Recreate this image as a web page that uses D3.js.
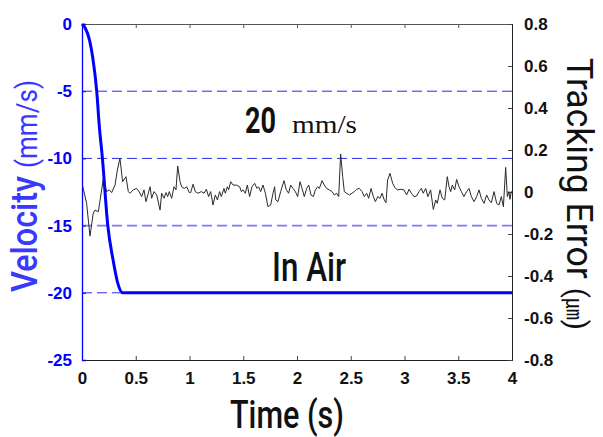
<!DOCTYPE html>
<html>
<head>
<meta charset="utf-8">
<script src="https://cdn.jsdelivr.net/npm/d3@7"></script>
<style>
body { margin: 0; background: #fff; }
.tick text { font-family: "Liberation Sans", Arial, sans-serif; font-weight: bold; font-size: 17px; }
.narrow { font-family: "Roboto", "Liberation Sans", sans-serif; }
</style>
</head>
<body>
<div id="plot"></div>
<script>
// velocity profile (s, mm/s)
const velTime = [0, 0.03, 0.07, 0.1, 0.137, 0.16, 0.19, 0.24, 0.29, 0.33, 0.38, 4];
const velValue = [0, -0.3, -1.2, -2.5, -5, -7.5, -10, -15, -17.6, -19.2, -20, -20];

// tracking error (s, um)
const errTime = [0.006, 0.043, 0.074, 0.105, 0.121, 0.152, 0.198, 0.229, 0.254, 0.276, 0.307, 0.329, 0.353, 0.378, 0.409, 0.431, 0.446, 0.477, 0.508, 0.533, 0.555, 0.577, 0.595, 0.617, 0.633, 0.648, 0.67, 0.695, 0.726, 0.741, 0.763, 0.781, 0.797, 0.812, 0.834, 0.856, 0.874, 0.89, 0.912, 0.927, 0.952, 0.974, 0.998,
  1.011, 1.033, 1.054, 1.079, 1.11, 1.135, 1.157, 1.178, 1.197, 1.219, 1.24, 1.26, 1.28, 1.296, 1.321, 1.333, 1.352, 1.364, 1.383, 1.405, 1.436, 1.467, 1.482, 1.498, 1.519, 1.538, 1.559, 1.581, 1.606, 1.628, 1.643, 1.662, 1.684, 1.706, 1.73, 1.755, 1.777, 1.792, 1.802, 1.823, 1.848, 1.879, 1.901, 1.922, 1.941, 1.963, 1.985,
  2.006, 2.028, 2.047, 2.068, 2.09, 2.109, 2.13, 2.152, 2.171, 2.192, 2.208, 2.233, 2.254, 2.276, 2.301, 2.326, 2.347, 2.369, 2.388, 2.406, 2.425, 2.44, 2.462, 2.487, 2.512, 2.533, 2.555, 2.58, 2.605, 2.626, 2.648, 2.667, 2.689, 2.71, 2.729, 2.751, 2.772, 2.791, 2.812, 2.828, 2.843, 2.865, 2.89, 2.915, 2.936, 2.967,
  2.995, 3.02, 3.042, 3.064, 3.088, 3.113, 3.135, 3.157, 3.174, 3.197, 3.218, 3.243, 3.268, 3.29, 3.305, 3.33, 3.352, 3.374, 3.398, 3.414, 3.43, 3.445, 3.467, 3.485, 3.507, 3.529, 3.553, 3.578, 3.6, 3.622, 3.647, 3.671, 3.693, 3.715, 3.74, 3.764, 3.786, 3.808, 3.833, 3.857, 3.879, 3.901, 3.92, 3.941, 3.957, 3.972, 3.981, 3.994, 4.0];
const errValue = [0.029, -0.054, -0.21, -0.10, -0.086, -0.094, 0.062, 0.002, 0.01, -0.003, 0.033, 0.105, 0.16, 0.049, 0.073, 0.002, -0.006, 0.01, 0.017, 0.0, -0.022, 0.01, -0.046, -0.006, 0.025, -0.03, 0.002, -0.014, -0.086, -0.006, -0.03, -0.003, -0.022, 0.002, -0.03, 0.025, 0.01, 0.124, 0.049, 0.025, 0.017, 0.025, -0.003,
  -0.003, 0.037, 0.002, -0.006, 0.002, -0.006, 0.013, -0.022, 0.002, -0.062, -0.014, -0.038, 0.002, -0.022, 0.017, -0.006, 0.025, 0.01, 0.049, 0.033, 0.033, 0.025, 0.002, 0.01, -0.006, 0.033, -0.022, 0.025, 0.041, 0.017, 0.025, 0.002, 0.033, -0.006, -0.07, -0.062, -0.006, 0.025, -0.038, -0.046, 0.002, 0.054, 0.01, -0.006, 0.033, 0.017, 0.002,
  -0.022, 0.049, 0.017, -0.022, 0.017, 0.033, -0.014, -0.022, 0.01, 0.025, 0.017, 0.054, 0.033, 0.017, 0.01, 0.002, -0.014, -0.006, -0.022, 0.181, 0.073, 0.002, -0.006, -0.014, -0.006, 0.002, 0.013, 0.017, 0.002, -0.022, -0.006, -0.03, 0.017, -0.022, -0.046, -0.022, -0.03, -0.006, -0.038, -0.051, 0.057, 0.089, 0.041, 0.017, 0.01, 0.013,
  0.01, -0.014, 0.013, -0.006, -0.022, -0.019, 0.002, 0.017, -0.006, 0.017, -0.022, 0.01, -0.083, -0.038, -0.054, 0.01, -0.03, -0.038, 0.073, 0.025, 0.002, 0.033, 0.01, 0.06, 0.025, 0.002, -0.022, 0.002, 0.017, -0.022, -0.046, -0.022, 0.01, -0.03, -0.054, -0.014, -0.038, -0.051, 0.002, -0.054, -0.062, -0.022, -0.07, 0.117, -0.022, 0.002, -0.035, 0.002, 0.0];

const timeTicks = [0, 0.5, 1, 1.5, 2, 2.5, 3, 3.5, 4];
const velTicks = [0, -5, -10, -15, -20, -25];
const errTicks = [0.8, 0.6, 0.4, 0.2, 0, -0.2, -0.4, -0.6, -0.8];
const gridLevels = [-5, -10, -15, -20];

const margin = {top: 24, right: 91, bottom: 77, left: 82},
width = 603 - margin.left - margin.right,
height = 437 - margin.top - margin.bottom;

const svgRoot = d3.select("#plot")
.append("svg")
.attr("width", 603)
.attr("height", 437);

const svg = svgRoot.append("g")
.attr("transform", `translate(${margin.left},${margin.top})`);

const x = d3.scaleLinear().domain([0, 4]).range([0, width]);
const yVel = d3.scaleLinear().domain([-25, 0]).range([height, 0]);
const yErr = d3.scaleLinear().domain([-0.8, 0.8]).range([height, 0]);

// dashed reference lines
svg.selectAll(".grid")
.data(gridLevels)
.join("line")
.attr("x1", 0)
.attr("x2", width)
.attr("y1", d => yVel(d))
.attr("y2", d => yVel(d))
.attr("stroke", d => d == -15 ? "#7a7aff" : "#2b2bee")
.attr("stroke-width", d => d == -15 ? 1.6 : 1)
.attr("stroke-dasharray", "10,5");

// axes
const fmt = d => d3.format("")(d).replace("−", "-");

svg.append("g")
.attr("transform", `translate(0, ${height})`)
.call(d3.axisBottom(x).tickValues(timeTicks).tickSize(-4).tickPadding(12).tickFormat(fmt))
.call(g => g.select(".domain").attr("stroke", "#222"))
.call(g => g.selectAll(".tick line").attr("stroke", "#444"))
.call(g => g.selectAll("text").attr("fill", "#111"));

svg.append("g")
.call(d3.axisTop(x).tickValues(timeTicks).tickSize(-4).tickFormat(""))
.call(g => g.select(".domain").attr("stroke", "#555"))
.call(g => g.selectAll(".tick line").attr("stroke", "#555"));

svg.append("g")
.attr("transform", `translate(${width}, 0)`)
.call(d3.axisRight(yErr).tickValues(errTicks).tickSize(-4).tickPadding(12).tickFormat(fmt))
.call(g => g.select(".domain").attr("stroke", "#222"))
.call(g => g.selectAll(".tick line").attr("stroke", "#444"))
.call(g => g.selectAll("text").attr("fill", "#111"));

svg.append("g")
.call(d3.axisLeft(yVel).tickValues(velTicks).tickSize(-4).tickPadding(10).tickFormat(fmt))
.call(g => g.select(".domain").attr("stroke", "#0000ff").attr("stroke-width", 1.3))
.call(g => g.selectAll(".tick line").attr("stroke", "#0000ff"))
.call(g => g.selectAll("text").attr("fill", "#0000ff"));

// tracking error line
const errData = errTime.map((t, i) => ({t: t, v: errValue[i]}));
svg.append("path")
.datum(errData)
.attr("fill", "none")
.attr("stroke", "#2a2a2a")
.attr("stroke-width", 1)
.attr("d", d3.line().x(d => x(d.t)).y(d => yErr(d.v)));

// velocity line
const velData = velTime.map((t, i) => ({t: t, v: velValue[i]}));
svg.append("path")
.datum(velData)
.attr("fill", "none")
.attr("stroke", "#0000ff")
.attr("stroke-width", 3)
.attr("stroke-linejoin", "round")
.attr("d", d3.line().curve(d3.curveMonotoneX).x(d => x(d.t)).y(d => yVel(d.v)));

// annotations
svg.append("text")
.attr("class", "narrow")
.attr("x", 245 - margin.left)
.attr("y", 133 - margin.top)
.attr("fill", "#111")
.attr("textLength", 31)
.attr("lengthAdjust", "spacingAndGlyphs")
.style("font-size", "36px")
.style("font-weight", "bold")
.text("20");

svg.append("text")
.attr("x", 292 - margin.left)
.attr("y", 133 - margin.top)
.attr("fill", "#111")
.attr("textLength", 65)
.attr("lengthAdjust", "spacingAndGlyphs")
.style("font-family", "'Liberation Serif', 'DejaVu Serif', serif")
.style("font-size", "25px")
.text("mm/s");

svg.append("text")
.attr("class", "narrow")
.attr("x", 272 - margin.left)
.attr("y", 281 - margin.top)
.attr("fill", "#111")
.attr("textLength", 74)
.attr("lengthAdjust", "spacingAndGlyphs")
.style("font-size", "41px")
.style("font-weight", "500")
.text("In Air");

// axis titles
svgRoot.append("text")
.attr("class", "narrow")
.attr("x", 230)
.attr("y", 428)
.attr("fill", "#111")
.attr("textLength", 114)
.attr("lengthAdjust", "spacingAndGlyphs")
.style("font-size", "38px")
.style("font-weight", "500")
.text("Time (s)");

const velTitle = svgRoot.append("text")
.attr("class", "narrow")
.attr("transform", "translate(37, 292) rotate(-90)")
.attr("fill", "#3838ff")
.attr("textLength", 212)
.attr("lengthAdjust", "spacingAndGlyphs");
velTitle.append("tspan").style("font-size", "36px").style("font-weight", "500").text("Velocity ");
velTitle.append("tspan").style("font-size", "29px").text("(mm/s)");

const errTitle = svgRoot.append("text")
.attr("class", "narrow")
.attr("transform", "translate(567, 58) rotate(90)")
.attr("fill", "#111")
.attr("textLength", 272)
.attr("lengthAdjust", "spacingAndGlyphs");
errTitle.append("tspan").style("font-size", "36px").text("Tracking Error ");
errTitle.append("tspan").style("font-size", "30px").text("(");
errTitle.append("tspan").style("font-family", "'Noto Sans CJK KR', sans-serif").style("font-size", "22px").text("㎛");
errTitle.append("tspan").style("font-size", "30px").text(")");
</script>
</body>
</html>
